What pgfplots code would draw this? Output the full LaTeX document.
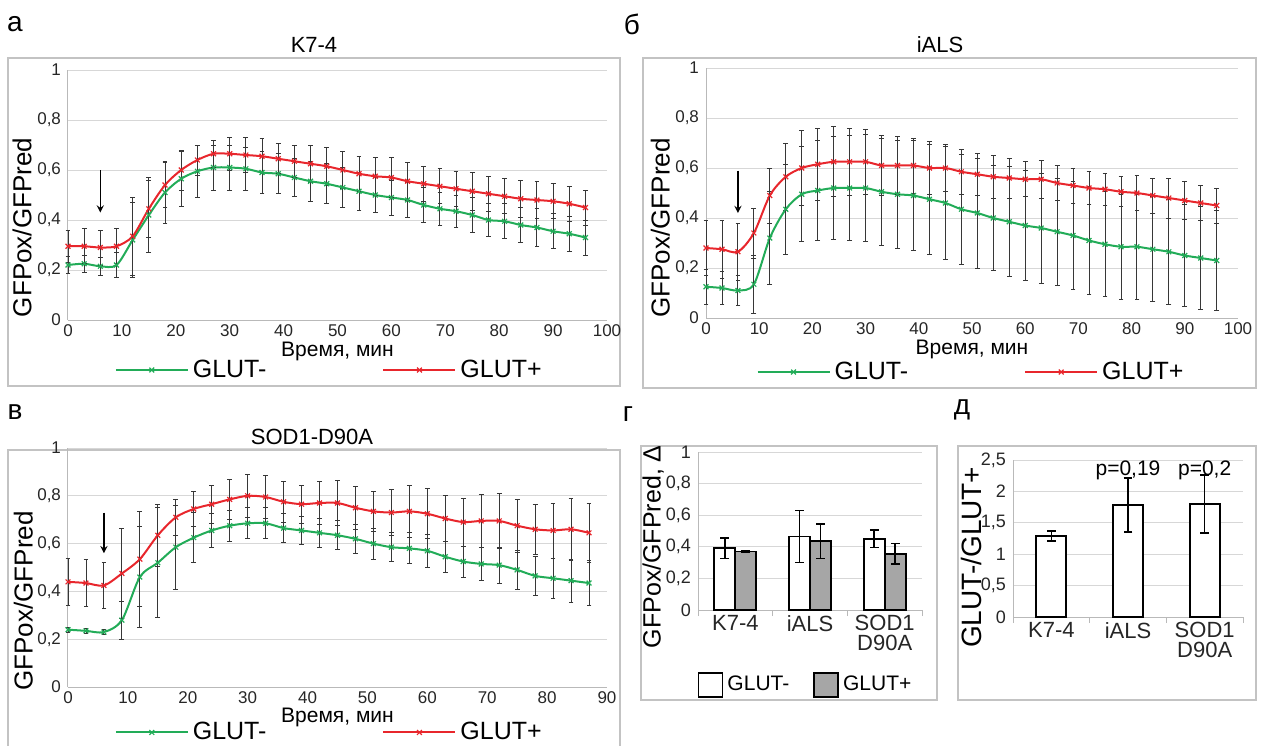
\documentclass[border=0pt]{standalone}
\usepackage{fontspec}
\setmainfont{Liberation Sans}
\usepackage{pgfplots}
\usepackage{pgfplotstable}
\pgfplotsset{compat=1.18}

\definecolor{gline}{RGB}{34,172,88}
\definecolor{rline}{RGB}{232,38,44}
\definecolor{gridc}{RGB}{215,215,215}
\definecolor{axc}{RGB}{185,185,185}
\definecolor{framec}{RGB}{195,195,195}
\definecolor{errc}{RGB}{55,55,55}
\definecolor{barg}{RGB}{166,166,166}
\newcommand\fs[2]{\fontsize{#1}{#2}\selectfont}

% t, GLUT- mean, err, GLUT+ mean, err
\pgfplotstableread{
t  m     em    p     ep
0  0.220 0.035 0.295 0.065
3  0.225 0.035 0.295 0.070
6  0.215 0.035 0.290 0.070
9  0.220 0.050 0.295 0.070
12 0.320 0.150 0.335 0.155
15 0.420 0.150 0.445 0.115
18 0.510 0.125 0.540 0.090
21 0.565 0.110 0.600 0.080
24 0.595 0.105 0.640 0.060
27 0.610 0.090 0.665 0.055
30 0.610 0.090 0.665 0.065
33 0.605 0.085 0.660 0.070
36 0.590 0.085 0.655 0.070
39 0.585 0.080 0.645 0.060
42 0.570 0.075 0.635 0.065
45 0.555 0.080 0.625 0.075
48 0.545 0.080 0.615 0.075
51 0.530 0.080 0.600 0.075
54 0.515 0.075 0.585 0.070
57 0.500 0.070 0.575 0.075
60 0.490 0.070 0.570 0.080
63 0.480 0.070 0.555 0.075
66 0.460 0.070 0.545 0.070
69 0.445 0.065 0.535 0.070
72 0.435 0.065 0.525 0.070
75 0.420 0.070 0.515 0.075
78 0.400 0.065 0.505 0.070
81 0.395 0.070 0.495 0.070
84 0.380 0.070 0.485 0.075
87 0.370 0.075 0.480 0.075
90 0.355 0.070 0.475 0.070
93 0.345 0.070 0.465 0.070
96 0.330 0.070 0.450 0.070
}\tabA

\pgfplotstableread{
t  m     em    p     ep
0  0.125 0.070 0.280 0.110
3  0.120 0.065 0.275 0.115
6  0.110 0.060 0.265 0.115
9  0.135 0.115 0.340 0.100
12 0.320 0.185 0.490 0.110
15 0.435 0.180 0.565 0.135
18 0.495 0.190 0.600 0.150
21 0.510 0.200 0.615 0.145
24 0.520 0.205 0.625 0.140
27 0.520 0.210 0.625 0.135
30 0.520 0.215 0.625 0.130
33 0.505 0.215 0.610 0.120
36 0.495 0.215 0.610 0.115
39 0.490 0.220 0.610 0.110
42 0.475 0.220 0.600 0.105
45 0.460 0.225 0.600 0.095
48 0.435 0.220 0.585 0.090
51 0.420 0.220 0.575 0.085
54 0.400 0.210 0.565 0.085
57 0.385 0.220 0.560 0.080
60 0.370 0.220 0.555 0.070
63 0.360 0.220 0.555 0.075
66 0.345 0.215 0.540 0.070
69 0.330 0.215 0.530 0.070
72 0.310 0.215 0.520 0.065
75 0.295 0.210 0.515 0.065
78 0.285 0.210 0.505 0.060
81 0.285 0.210 0.500 0.070
84 0.275 0.210 0.490 0.070
87 0.265 0.210 0.480 0.080
90 0.250 0.205 0.470 0.075
93 0.240 0.205 0.460 0.070
96 0.230 0.200 0.450 0.070
}\tabB

\pgfplotstableread{
t  m     em    p     ep
0  0.240 0.010 0.440 0.100
3  0.235 0.010 0.435 0.100
6  0.230 0.010 0.425 0.095
9  0.280 0.080 0.475 0.190
12 0.460 0.210 0.535 0.200
15 0.520 0.230 0.635 0.130
18 0.585 0.175 0.710 0.075
21 0.625 0.105 0.745 0.075
24 0.655 0.070 0.765 0.080
27 0.675 0.065 0.785 0.085
30 0.685 0.065 0.800 0.090
33 0.685 0.065 0.795 0.090
36 0.665 0.060 0.775 0.085
39 0.655 0.060 0.765 0.080
42 0.645 0.060 0.770 0.090
45 0.635 0.060 0.770 0.095
48 0.620 0.060 0.750 0.090
51 0.600 0.065 0.735 0.085
54 0.585 0.060 0.730 0.095
57 0.580 0.065 0.735 0.110
60 0.570 0.070 0.725 0.105
63 0.545 0.065 0.705 0.095
66 0.525 0.065 0.690 0.100
69 0.515 0.070 0.695 0.110
72 0.510 0.075 0.695 0.115
75 0.490 0.080 0.675 0.110
78 0.465 0.080 0.660 0.105
81 0.455 0.085 0.655 0.115
84 0.445 0.090 0.660 0.130
87 0.435 0.095 0.645 0.125
}\tabC

\pgfplotsset{
  base/.style={
    scale only axis, anchor=south west, clip=false,
    axis x line*=bottom, axis y line*=left,
    axis line style={draw=axc, line width=0.5pt},
    ymajorgrids, grid style={draw=gridc, line width=0.5pt},
    /pgf/number format/assume math mode=true,
    yticklabel style={/pgf/number format/use comma},
    ticklabel style={font=\fs{8.5}{9}, text=black!85},
    xticklabel style={yshift=1pt},
    tick style={draw=none}, major tick length=0pt,
    ylabel style={font=\fs{13}{15}},
  },
  timeax/.style={
    base, xmin=0, ymin=0, ymax=1,
    ytick={0,0.2,0.4,0.6,0.8,1},
    xlabel={Время, мин}, ylabel={GFPox/GFPred},
    xlabel style={font=\fs{10.5}{12}},
    legend columns=2,
    legend style={draw=none, fill=none, font=\fs{12.5}{14}, anchor=west,
      /tikz/every even column/.append style={column sep=56pt}},
    legend image code/.code={\draw[mark repeat=2,mark phase=2,#1]
      plot coordinates {(0pt,0pt) (18pt,0pt) (36pt,0pt)};},
  },
  lstyle/.style={line width=1pt, smooth, mark=x, mark size=1.7pt,
    mark options={solid, line width=0.6pt}},
  ebar/.style={error bars/.cd, y dir=both, y explicit,
    error bar style={errc, line width=0.45pt},
    error mark options={rotate=90, mark size=1.2pt, errc, line width=0.45pt}},
  gser/.style={gline, lstyle, ebar},
  rser/.style={rline, lstyle, ebar},
  barax/.style={
    base, xmin=-0.5, xmax=2.5, ymin=0,
    xtick={0,1,2}, xticklabels={K7-4,iALS,{SOD1\\D90A}},
    xticklabel style={align=center, font=\fs{11}{10}},
    yticklabel style={font=\fs{9}{10}},
    minor xtick={-0.5,0.5,1.5,2.5},
    minor tick style={draw=axc, line width=0.5pt},
    minor tick length=3pt, tick align=outside,
  },
  barerr/.style={error bars/.cd, y dir=both, y explicit,
    error bar style={black, line width=0.8pt},
    error mark options={rotate=90, mark size=2.2pt, black, line width=0.8pt}},
}

\begin{document}
\begin{tikzpicture}
\useasboundingbox (0,0) rectangle (632pt,-372.5pt);

% panel frames
\draw[framec, line width=0.6pt] (4pt,-29pt) rectangle (310pt,-193pt);
\draw[framec, line width=0.6pt] (321.5pt,-29pt) rectangle (628pt,-194pt);
\draw[framec, line width=0.6pt] (4pt,-373pt) -- (4pt,-225pt) -- (310pt,-225pt) -- (310pt,-373pt);
\draw[framec, line width=0.6pt] (320.5pt,-223pt) rectangle (468.5pt,-350pt);
\draw[framec, line width=0.6pt] (479pt,-223pt) rectangle (628pt,-350pt);

% panel letters and titles
\node[font=\fs{14}{16}] at (7.5pt,-12pt) {а};
\node[font=\fs{14}{16}] at (316pt,-12pt) {б};
\node[font=\fs{14}{16}] at (7.5pt,-206pt) {в};
\node[font=\fs{14}{16}] at (314pt,-207pt) {г};
\node[font=\fs{14}{16}] at (481pt,-205pt) {д};
\node[font=\fs{11}{12}] at (157pt,-22.5pt) {K7-4};
\node[font=\fs{11}{12}] at (470pt,-22.5pt) {iALS};
\node[font=\fs{11}{12}] at (156pt,-218.5pt) {SOD1-D90A};

% а
\begin{axis}[timeax, at={(34pt,-160pt)}, width=269.5pt, height=125pt,
  xmax=100, xtick={0,10,...,100},
  xlabel style={at={(axis description cs:0.5,-0.126)}, anchor=center},
  ylabel style={at={(axis description cs:-0.085,0.37)}, anchor=center},
  legend style={at={(0.075,-0.2)}}]
\addplot[gser] table[x=t, y=m, y error=em]{\tabA};
\addplot[rser] table[x=t, y=p, y error=ep]{\tabA};
\legend{GLUT-, GLUT+}
\draw[-stealth, line width=0.6pt] (axis cs:6,0.6) -- (axis cs:6,0.43);
\end{axis}

% б
\begin{axis}[timeax, at={(353pt,-159pt)}, width=266pt, height=125pt,
  xmax=100, xtick={0,10,...,100},
  xlabel style={at={(axis description cs:0.5,-0.126)}, anchor=center},
  ylabel style={at={(axis description cs:-0.086,0.36)}, anchor=center},
  legend style={at={(0.083,-0.216)}}]
\addplot[gser] table[x=t, y=m, y error=em]{\tabB};
\addplot[rser] table[x=t, y=p, y error=ep]{\tabB};
\legend{GLUT-, GLUT+}
\draw[-stealth, line width=0.6pt] (axis cs:6,0.59) -- (axis cs:6,0.42);
\end{axis}

% в
\begin{axis}[timeax, at={(34pt,-343.5pt)}, width=269.5pt, height=119.5pt,
  xmax=90, xtick={0,10,...,90},
  xlabel style={at={(axis description cs:0.5,-0.126)}, anchor=center},
  ylabel style={at={(axis description cs:-0.083,0.36)}, anchor=center},
  legend style={at={(0.075,-0.19)}}]
\addplot[gser] table[x=t, y=m, y error=em]{\tabC};
\addplot[rser] table[x=t, y=p, y error=ep]{\tabC};
\legend{GLUT-, GLUT+}
\draw[-stealth, line width=0.6pt] (axis cs:6,0.73) -- (axis cs:6,0.56);
\end{axis}

% г
\begin{axis}[barax, at={(349pt,-305pt)}, width=112pt, height=79pt,
  ybar=0pt, bar width=10.5pt, ymax=1,
  ytick={0,0.2,0.4,0.6,0.8,1},
  ylabel={GFPox/GFPred, Δ},
  ylabel style={at={(axis description cs:-0.2,0.4)}, anchor=center, font=\fs{12.5}{14}},
  legend columns=2,
  legend style={draw=none, fill=none, font=\fs{10.5}{12}, at={(-0.03,-0.475)}, anchor=west,
    /tikz/every even column/.append style={column sep=10pt}}]
\addplot[fill=white, draw=black, line width=0.9pt,
  legend image code/.code={\draw[fill=white, draw=black, line width=0.9pt] (0pt,-6pt) rectangle (12pt,6pt);},
  barerr]
  coordinates {(0,0.39) +- (0,0.065) (1,0.465) +- (0,0.165) (2,0.45) +- (0,0.055)};
\addplot[fill=barg, draw=black, line width=0.9pt,
  legend image code/.code={\draw[fill=barg, draw=black, line width=0.9pt] (0pt,-6pt) rectangle (12pt,6pt);},
  barerr]
  coordinates {(0,0.37) +- (0,0.003) (1,0.435) +- (0,0.11) (2,0.355) +- (0,0.065)};
\legend{GLUT-, GLUT+}
\end{axis}

% д
\begin{axis}[barax, at={(506.5pt,-308.5pt)}, width=115pt, height=78.5pt,
  ybar, bar width=15pt, ymax=2.5,
  ytick={0,0.5,1,1.5,2,2.5},
  ylabel={GLUT-/GLUT+},
  ylabel style={at={(axis description cs:-0.18,0.38)}, anchor=center, font=\fs{14}{15}}]
\addplot[fill=white, draw=black, line width=0.9pt, barerr]
  coordinates {(0,1.29) +- (0,0.08) (1,1.78) +- (0,0.43) (2,1.80) +- (0,0.46)};
\node[font=\fs{10.5}{12}] at (axis cs:1,2.33) {p=0,19};
\node[font=\fs{10.5}{12}] at (axis cs:2,2.33) {p=0,2};
\end{axis}
\end{tikzpicture}
\end{document}
